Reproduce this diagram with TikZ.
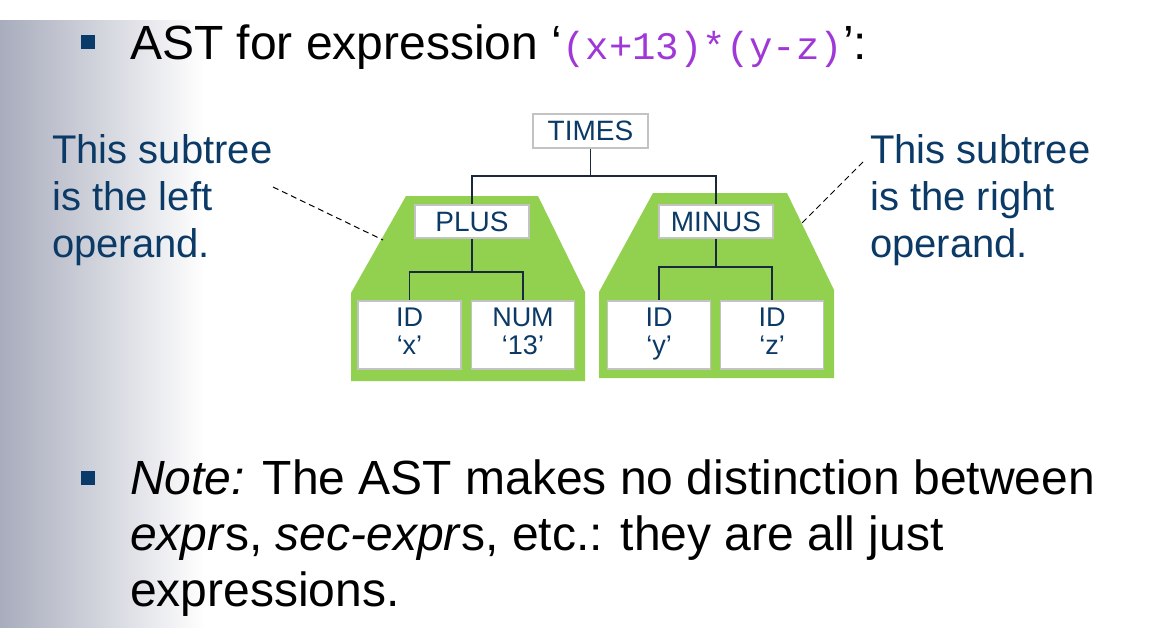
\documentclass[tikz,border=0pt]{standalone}
\usepackage{fontspec}
\setmainfont{Liberation Sans}
\setmonofont{Liberation Mono}
\usetikzlibrary{positioning,calc}
\definecolor{nodeblue}{RGB}{12,58,102}
\definecolor{subgreen}{RGB}{146,208,80}
\definecolor{boxgray}{RGB}{195,195,195}
\definecolor{codepurple}{RGB}{160,55,215}
\definecolor{bulletblue}{RGB}{10,58,106}
\definecolor{bggray}{RGB}{168,172,188}
\definecolor{edgecol}{RGB}{25,40,60}
\tikzset{
  astnode/.style={draw=boxgray, line width=1.5pt, fill=white, text=nodeblue, inner sep=0pt,
    font=\fontsize{28}{28}\selectfont, minimum width=114pt, minimum height=33pt},
  leafbox/.style={astnode, align=center, font=\fontsize{27}{28}\selectfont, minimum width=103pt, minimum height=68pt,
    execute at begin node=\strut, execute at end node=\strut},
  treeedge/.style={edgecol, line width=1.3pt},
  pointer/.style={black, line width=1pt, dash pattern=on 6pt off 4pt},
  callout/.style={text=nodeblue, font=\fontsize{40}{47}\selectfont, align=left, inner sep=0pt, anchor=north west},
  bulletsq/.style={fill=bulletblue, inner sep=0pt, minimum width=14pt, minimum height=14pt}
}
\begin{document}
\begin{tikzpicture}[x=1pt, y=-1pt]
\useasboundingbox (0,0) rectangle (1152,627);
\fill[white] (0,0) rectangle (1152,627);
\shade[left color=bggray, right color=white] (0,20) rectangle (205,627);

\node[bulletsq] (b1) at (88,42) {};
\node[anchor=base west, inner sep=0pt, font=\fontsize{48}{54}\selectfont] (title) at (130,59)
  {AST for expression ‘{\color{codepurple}\ttfamily\fontsize{39}{40}\selectfont (x+13)*(y-z)}’:};

\fill[subgreen] (406,196) -- (538,196) -- (585,292) -- (585,381) -- (351,381) -- (351,293) -- cycle;
\fill[subgreen] (653,193) -- (787,193) -- (834,290) -- (834,378) -- (599,378) -- (599,292) -- cycle;

\node[astnode, minimum width=115pt, minimum height=34pt] (times) at (590.5,131) {TIMES};
\node[astnode] (plus) at (472,221.5) {PLUS};
\node[astnode] (minus) at (716,221.5) {MINUS};
\node[leafbox] (idx) at (409.5,335) {ID\\‘x’};
\node[leafbox] (num) at (523,335) {NUM\\‘13’};
\node[leafbox] (idy) at (659,335) {ID\\‘y’};
\node[leafbox] (idz) at (772,335) {ID\\‘z’};

\coordinate (topbar) at (0,176);
\coordinate (lbar) at (0,272);
\coordinate (rbar) at (0,267);
\draw[treeedge] (times.south) -- (times.south |- topbar);
\draw[treeedge] (plus.north) |- (minus.north |- topbar) -- (minus.north);
\draw[treeedge] (plus.south) -- (plus.south |- lbar);
\draw[treeedge] (idx.north) |- (num.north |- lbar) -- (num.north);
\draw[treeedge] (minus.south) -- (minus.south |- rbar);
\draw[treeedge] (idy.north) |- (idz.north |- rbar) -- (idz.north);

\node[callout] (lefttext) at (52,134) {This subtree\\is the left\\operand.};
\node[callout] (righttext) at (870,134) {This subtree\\is the right\\operand.};
\coordinate (lstart) at (273,187);
\coordinate (ltip) at (383,240);
\coordinate (rstart) at (863,162);
\coordinate (rtip) at (800,225);
\draw[pointer] (lstart) -- (ltip);
\draw[pointer] (rstart) -- (rtip);

\node[bulletsq] (b2) at (88,478) {};
\node[anchor=north west, inner sep=0pt, align=left, font=\fontsize{48}{56}\selectfont] (note) at (130,460)
  {\textit{Note:} The AST makes no distinction between\\
   \textit{expr}s, \textit{sec-expr}s, etc.: they are all just\\
   expressions.};
\end{tikzpicture}
\end{document}
